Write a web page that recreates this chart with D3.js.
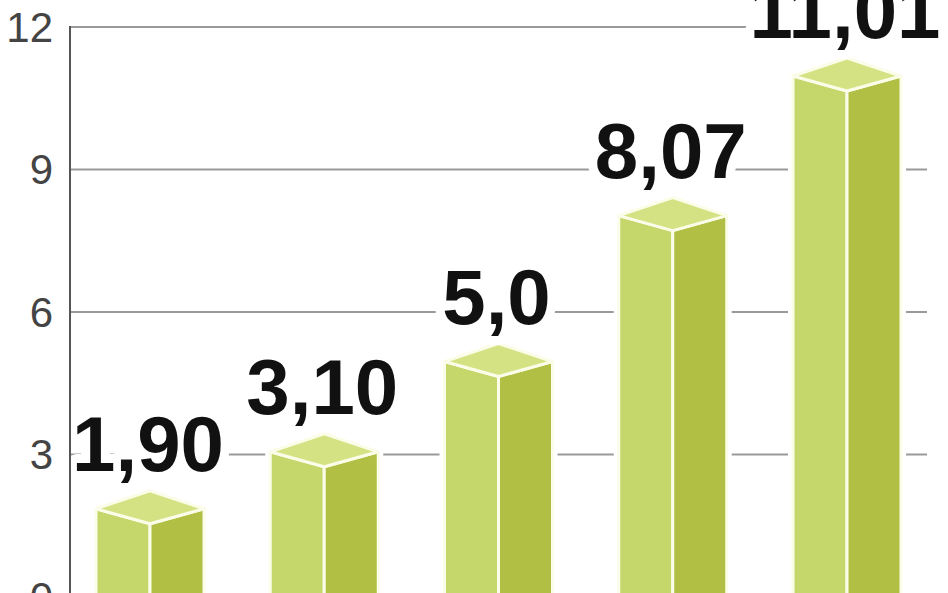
<!DOCTYPE html>
<html>
<head>
<meta charset="utf-8">
<script src="https://cdn.jsdelivr.net/npm/d3@7/dist/d3.min.js"></script>
<style>
  html, body { margin: 0; padding: 0; background: #fff; }
  svg { display: block; }
</style>
</head>
<body>
<svg id="chart" width="948" height="593"></svg>
<script>
const categories = ["A", "B", "C", "D", "E"];
const values = [1.90, 3.10, 5.0, 8.07, 11.01];
const valueLabels = ["1,90", "3,10", "5,0", "8,07", "11,01"];
const yTicks = [0, 3, 6, 9, 12];

const svg = d3.select("#chart");
const W = 948, H = 593;

const y = d3.scaleLinear().domain([0, 12]).range([597, 27]);
const x = d3.scalePoint().domain(categories).range([150, 847]);

const axisX = 70, gridRight = 927;
const half = 54;

// gridlines
svg.append("g").selectAll("line").data(yTicks.filter(d => d > 0)).join("line")
  .attr("x1", axisX).attr("x2", gridRight)
  .attr("y1", d => y(d)).attr("y2", d => y(d))
  .attr("stroke", "#9a9a9a").attr("stroke-width", 2);

// tick labels
svg.append("g").selectAll("text").data(yTicks).join("text")
  .attr("x", 53).attr("y", d => y(d))
  .attr("text-anchor", "end").attr("dominant-baseline", "central")
  .attr("font-family", "'Liberation Sans', Arial, sans-serif")
  .attr("font-size", 42).attr("fill", "#444")
  .text(d => d);

const data = categories.map((c, i) => ({ c, v: values[i], label: valueLabels[i] }));

const bars = svg.append("g").selectAll("g").data(data).join("g");

function geom(d) {
  const cx = x(d.c), yv = y(d.v), y0 = y(0) + 10;
  return {
    cx, yv, y0,
    L: [cx - half, yv + 2],
    R: [cx + half, yv + 2],
    F: [cx, yv + 17],
    B: [cx, yv - 16]
  };
}
const pts = a => a.map(p => p.join(",")).join(" ");

// white halo (hides gridlines around bars)
bars.append("polygon")
  .attr("points", d => { const g = geom(d); return pts([g.L, g.B, g.R, [g.R[0], g.y0], [g.L[0], g.y0]]); })
  .attr("fill", "#fff").attr("stroke", "#fff").attr("stroke-width", 10).attr("stroke-linejoin", "round");

// front face
bars.append("polygon")
  .attr("points", d => { const g = geom(d); return pts([g.L, g.F, [g.F[0], g.y0], [g.L[0], g.y0]]); })
  .attr("fill", "#c5d76b").attr("stroke", "#fbfde9").attr("stroke-width", 3).attr("stroke-linejoin", "round");

// side face
bars.append("polygon")
  .attr("points", d => { const g = geom(d); return pts([g.F, g.R, [g.R[0], g.y0], [g.F[0], g.y0]]); })
  .attr("fill", "#b1c044").attr("stroke", "#fbfde9").attr("stroke-width", 3).attr("stroke-linejoin", "round");

// top face
bars.append("polygon")
  .attr("points", d => { const g = geom(d); return pts([g.L, g.B, g.R, g.F]); })
  .attr("fill", "#d5e283").attr("stroke", "#fbfde9").attr("stroke-width", 3).attr("stroke-linejoin", "round");

// value labels
svg.append("g").selectAll("text").data(data).join("text")
  .attr("x", d => x(d.c) - 2)
  .attr("y", d => y(d.v) - 36)
  .attr("text-anchor", "middle")
  .attr("font-family", "'Liberation Sans', Arial, sans-serif")
  .attr("font-weight", "bold")
  .attr("font-size", 78)
  .attr("fill", "#111")
  .attr("stroke", "#fff").attr("stroke-width", 18).attr("paint-order", "stroke")
  .attr("stroke-linejoin", "round")
  .text(d => d.label);

// y axis line
svg.append("line")
  .attr("x1", axisX).attr("x2", axisX)
  .attr("y1", y(12) - 1).attr("y2", H + 5)
  .attr("stroke", "#555").attr("stroke-width", 2);
</script>
</body>
</html>
